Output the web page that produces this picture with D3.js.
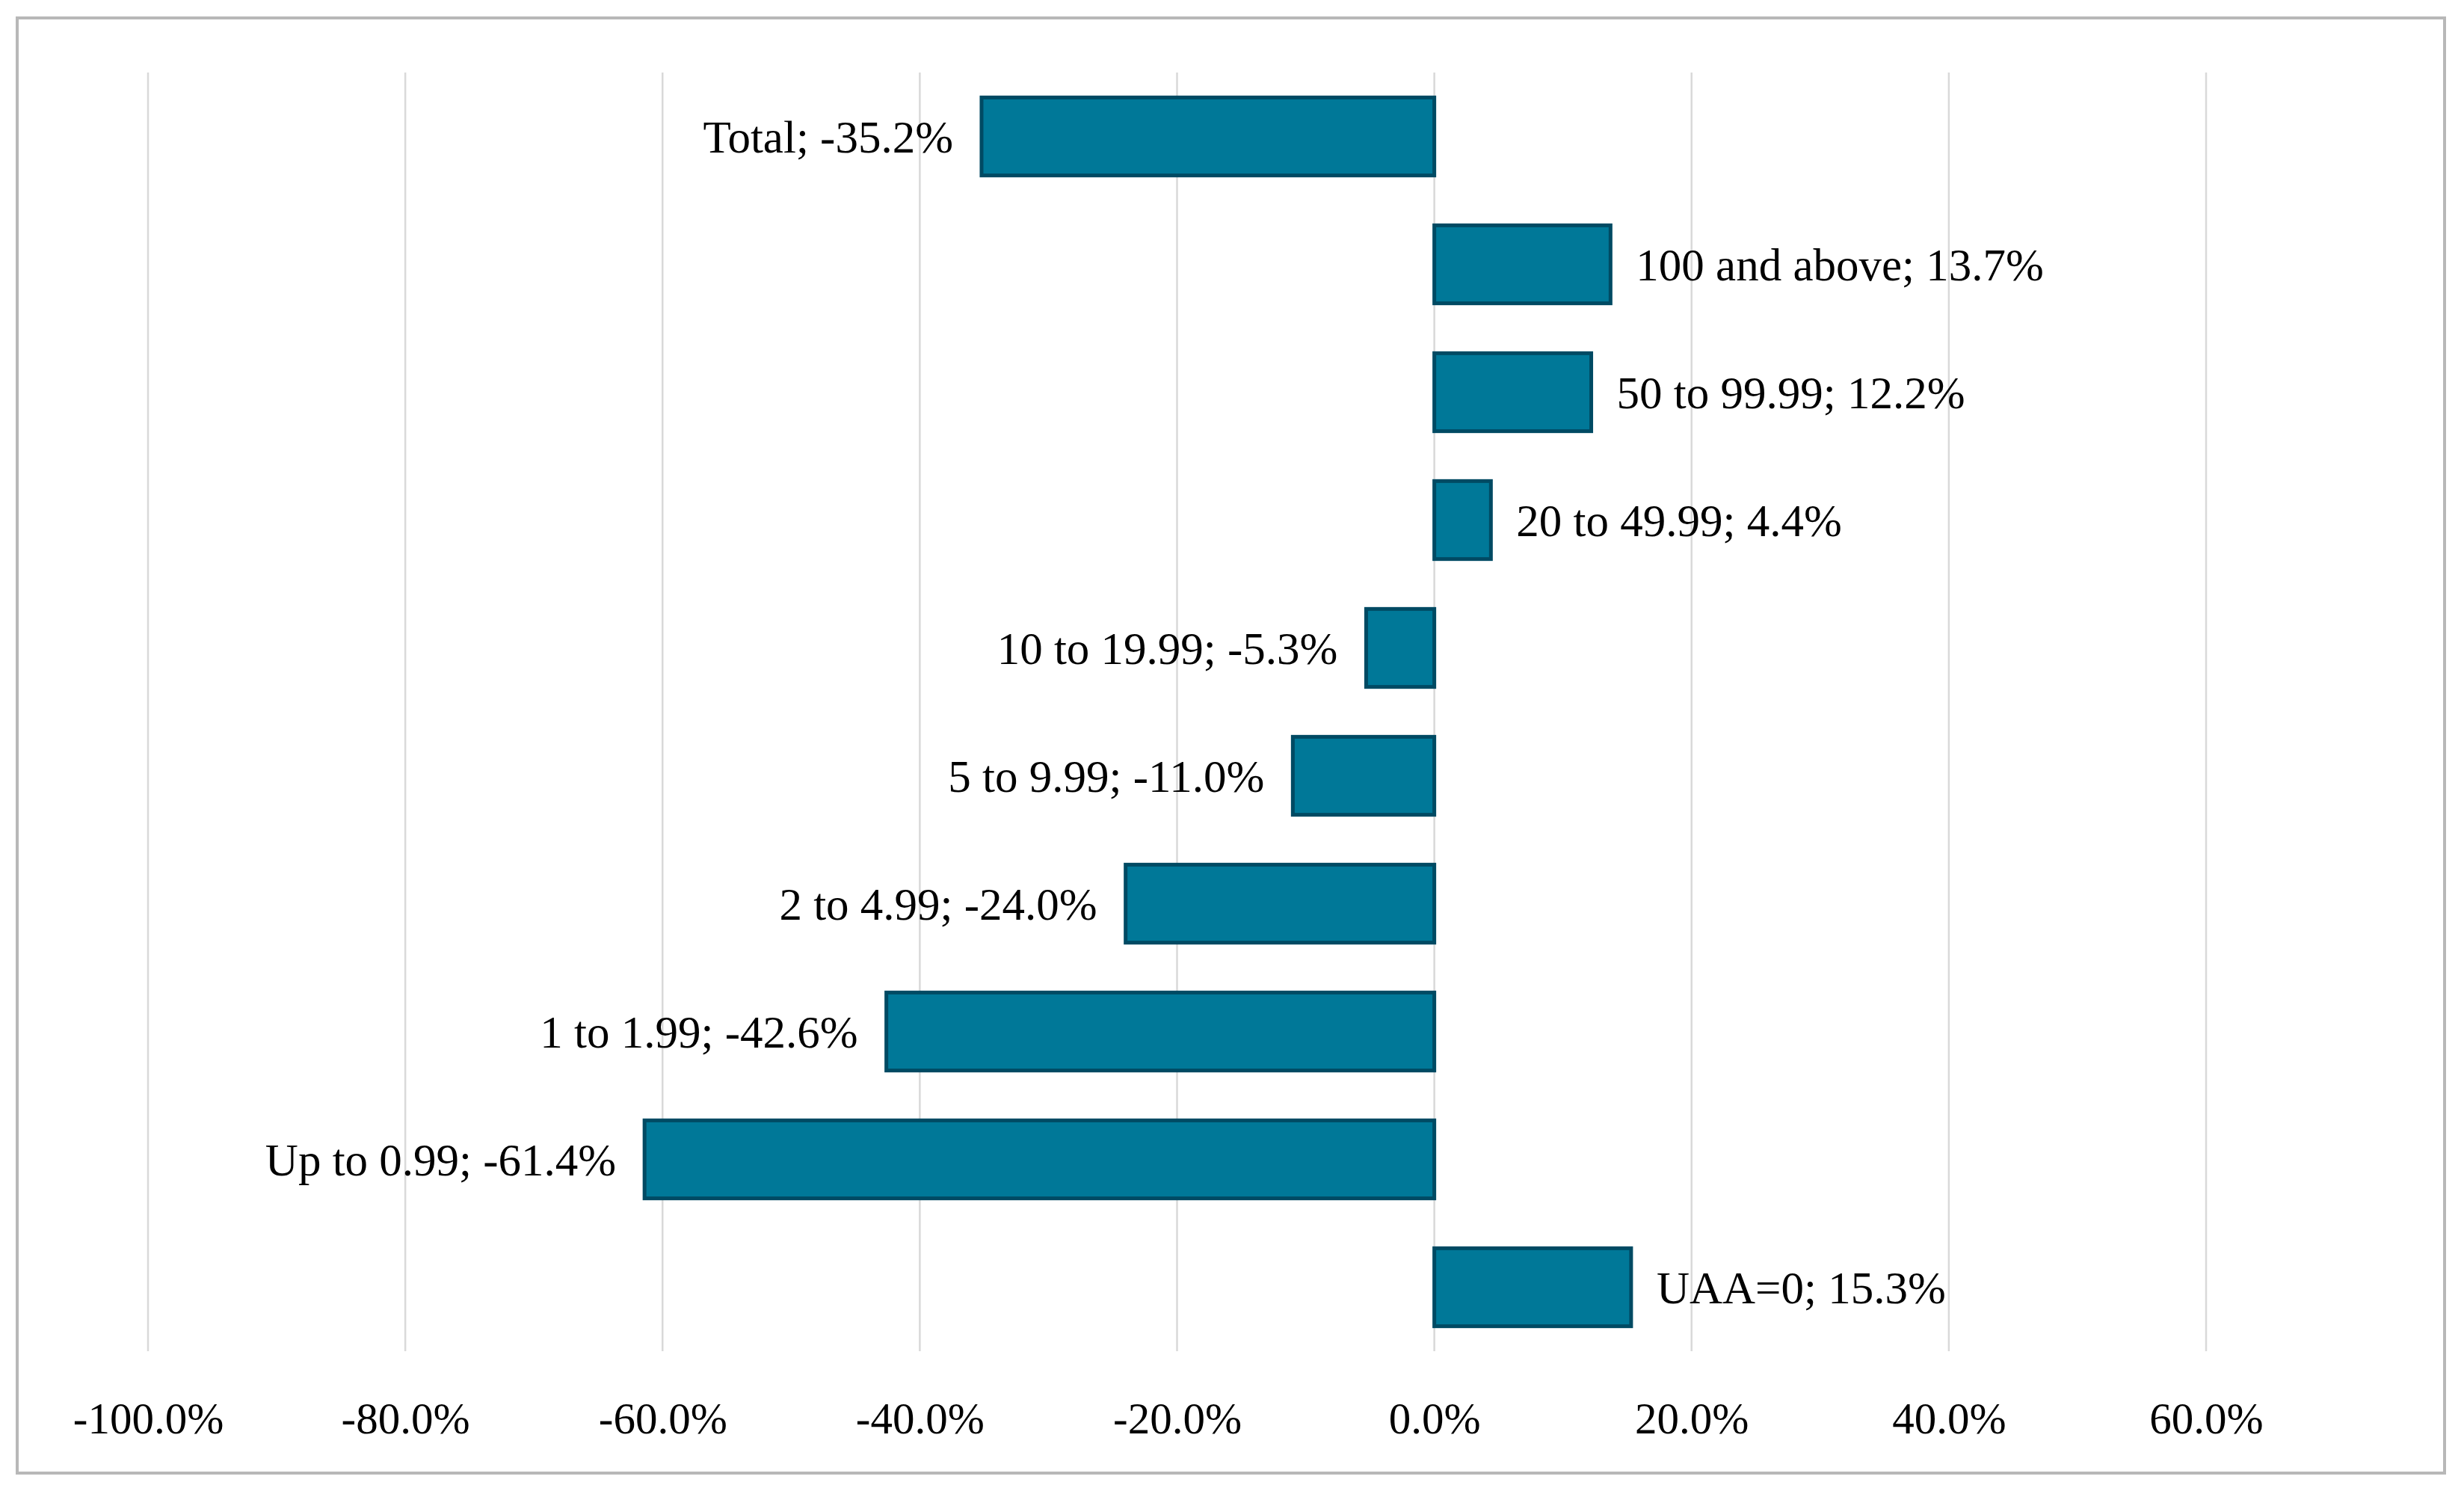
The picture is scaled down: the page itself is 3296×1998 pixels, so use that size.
<!DOCTYPE html>
<html>
<head>
<meta charset="utf-8">
<script src="https://cdn.jsdelivr.net/npm/d3@7"></script>
<style>
  body { margin: 0; background: #fff; }
  text { font-family: "Palatino Linotype", "Book Antiqua", Palatino, "Liberation Serif", serif; fill: #000; }
</style>
</head>
<body>
<div id="chart"></div>
<script>
// chart data, top row first
const categories = ["Total", "100 and above", "50 to 99.99", "20 to 49.99", "10 to 19.99",
  "5 to 9.99", "2 to 4.99", "1 to 1.99", "Up to 0.99", "UAA=0"];
const changes = [-35.2, 13.7, 12.2, 4.4, -5.3, -11.0, -24.0, -42.6, -61.4, 15.3];
const tickValues = [-100, -80, -60, -40, -20, 0, 20, 40, 60];

const W = 3296, H = 1998;
const margin = { top: 97, right: 345, bottom: 191, left: 198 };

const svg = d3.select("#chart").append("svg")
  .attr("width", W)
  .attr("height", H);

// outer frame
svg.append("rect")
  .attr("x", 23).attr("y", 24)
  .attr("width", 3247).attr("height", 1946)
  .attr("fill", "#fff")
  .attr("stroke", "#b8b8b8")
  .attr("stroke-width", 4);

const x = d3.scaleLinear()
  .domain([-100, 60])
  .range([margin.left, W - margin.right]);

const y = d3.scaleBand()
  .domain(categories)
  .range([margin.top, H - margin.bottom])
  .paddingInner(0.39)
  .paddingOuter(0.195);

const data = categories.map((c, i) => ({ cat: c, v: changes[i] }));

// gridlines
svg.append("g")
  .selectAll("line")
  .data(tickValues)
  .join("line")
    .attr("x1", d => x(d)).attr("x2", d => x(d))
    .attr("y1", margin.top).attr("y2", H - margin.bottom)
    .attr("stroke", "#d9d9d9")
    .attr("stroke-width", 2.5);

// bottom axis, labels only
const axis = svg.append("g")
  .attr("transform", "translate(0," + (H - margin.bottom) + ")")
  .call(d3.axisBottom(x)
    .tickValues(tickValues)
    .tickSize(0)
    .tickPadding(68)
    .tickFormat(d => d.toFixed(1) + "%"));
axis.select(".domain").remove();
axis.selectAll("text")
  .style("font-size", "59px")
  .style("font-family", "\"Palatino Linotype\", \"Book Antiqua\", Palatino, \"Liberation Serif\", serif")
  .attr("fill", "#000");

// bars
svg.append("g")
  .selectAll("rect")
  .data(data)
  .join("rect")
    .attr("x", d => x(Math.min(0, d.v)))
    .attr("y", d => y(d.cat))
    .attr("width", d => Math.abs(x(d.v) - x(0)))
    .attr("height", y.bandwidth())
    .attr("fill", "#007898")
    .attr("stroke", "#004a63")
    .attr("stroke-width", 5);

// data labels
svg.append("g")
  .selectAll("text")
  .data(data)
  .join("text")
    .attr("x", d => d.v < 0 ? x(d.v) - 38 : x(d.v) + 34)
    .attr("y", d => y(d.cat) + y.bandwidth() / 2)
    .attr("dy", "0.35em")
    .attr("text-anchor", d => d.v < 0 ? "end" : "start")
    .style("font-size", "61px")
    .text(d => d.cat + "; " + d.v.toFixed(1) + "%");
</script>
</body>
</html>
